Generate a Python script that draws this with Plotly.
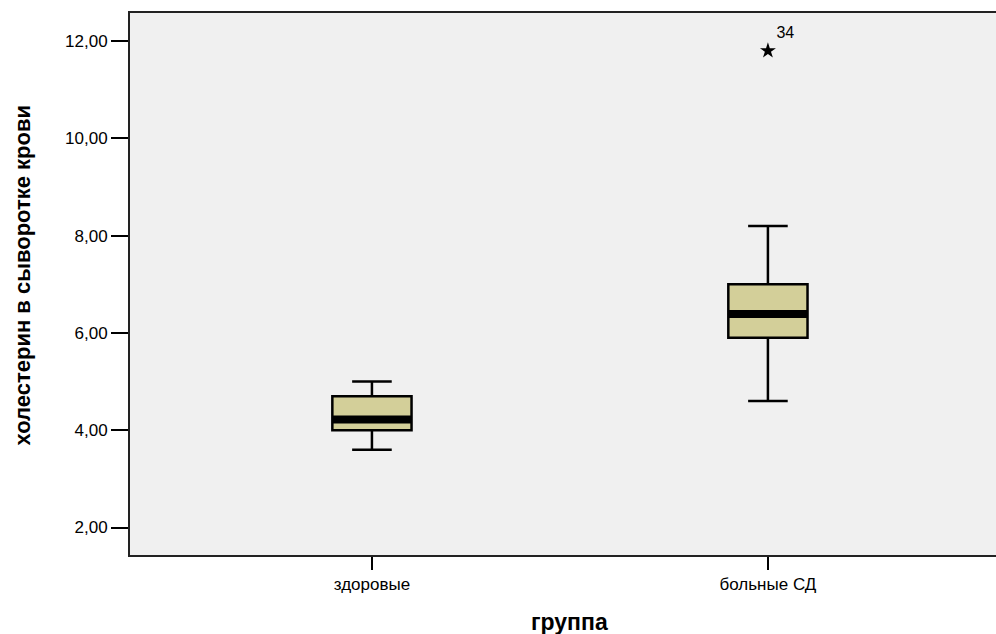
import plotly.graph_objects as go

# ---- data ----
groups = ["здоровые", "больные СД"]
group_pos = [0, 1]
q1 = [4.0, 5.9]
median = [4.22, 6.39]
q3 = [4.7, 7.0]
lower_whisker = [3.6, 4.6]
upper_whisker = [5.0, 8.2]

outlier_group = [1]
outlier_value = [11.8]
outlier_label = ["34"]

y_tickvals = [2, 4, 6, 8, 10, 12]
y_ticktext = ["2,00", "4,00", "6,00", "8,00", "10,00", "12,00"]

x_title = "группа"
y_title = "холестерин в сыворотке крови"

FONT = "Liberation Sans, Arial, sans-serif"
BOX_W = 0.2

fig = go.Figure()

fig.add_trace(go.Box(
    x=group_pos,
    q1=q1, median=median, q3=q3,
    lowerfence=lower_whisker, upperfence=upper_whisker,
    width=BOX_W,
    whiskerwidth=0.5,
    fillcolor="#D3CF99",
    line=dict(color="black", width=2.5),
    boxpoints=False,
    showlegend=False,
    hoverinfo="skip",
))

# thick median bands
for xp, m in zip(group_pos, median):
    fig.add_trace(go.Scatter(
        x=[xp - BOX_W / 2, xp + BOX_W / 2], y=[m, m],
        mode="lines", line=dict(color="black", width=8),
        showlegend=False, hoverinfo="skip",
    ))

# extreme value
fig.add_trace(go.Scatter(
    x=outlier_group, y=outlier_value,
    mode="markers+text",
    marker=dict(symbol="star", size=12, color="black"),
    text=outlier_label, textposition="top right",
    textfont=dict(family=FONT, size=16, color="black"),
    showlegend=False, hoverinfo="skip",
))

fig.update_layout(
    width=996, height=634,
    margin=dict(l=130, r=0, t=13, b=79),
    paper_bgcolor="white",
    plot_bgcolor="#F0F0F0",
    font=dict(family=FONT, size=17, color="black"),
    xaxis=dict(
        range=[-0.611, 1.576],
        tickvals=group_pos, ticktext=groups,
        ticks="outside", ticklen=13, tickwidth=2, tickcolor="black",
        showline=True, linecolor="#222222", linewidth=2, mirror=True,
        showgrid=False, zeroline=False,
        tickfont=dict(family=FONT, size=17, color="black"),
    ),
    yaxis=dict(
        range=[1.435, 12.576],
        tickvals=y_tickvals, ticktext=y_ticktext,
        ticks="outside", ticklen=17, tickwidth=2, tickcolor="black",
        showline=True, linecolor="#222222", linewidth=2,
        showgrid=False, zeroline=False,
        tickfont=dict(family=FONT, size=17, color="black"),
    ),
    annotations=[
        dict(text=x_title, xref="paper", yref="paper", x=0.508, y=-0.1236,
             xanchor="center", yanchor="middle", showarrow=False,
             font=dict(family=FONT, size=23, color="black", weight="bold")),
        dict(text=y_title, xref="paper", yref="paper", x=-0.1247, y=0.5157,
             xanchor="center", yanchor="middle", showarrow=False, textangle=-90,
             font=dict(family=FONT, size=22, color="black", weight="bold")),
    ],
)

fig.write_html(
    "out.html",
    config={"displayModeBar": False},
    post_script="document.body.style.margin='0';document.body.style.padding='0';",
)
